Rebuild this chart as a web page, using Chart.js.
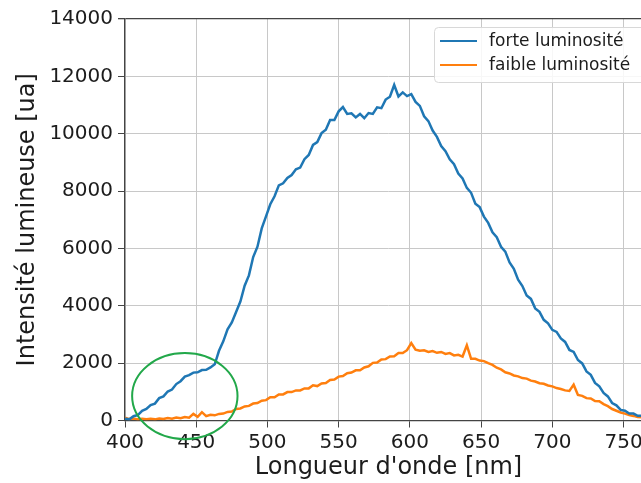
<!DOCTYPE html>
<html>
<head>
<meta charset="utf-8">
<script src="https://cdn.jsdelivr.net/npm/chart.js@4"></script>
<style>
  html, body { margin: 0; padding: 0; overflow: hidden; background: #fff; }
  #wrap { width: 652px; height: 483px; }
</style>
</head>
<body>
<div id="wrap"><canvas id="spectre" width="652" height="483"></canvas></div>
<script>
// Longueurs d'onde (nm)
const wavelengths = [400,403,406,409,412,415,418,421,424,427,430,433,436,439,442,445,448,451,454,457,
  460,463,466,469,472,475,478,481,484,487,490,493,496,499,502,505,508,511,514,517,
  520,523,526,529,532,535,538,541,544,547,550,553,556,559,562,565,568,571,574,577,
  580,583,586,589,592,595,598,601,604,607,610,613,616,619,622,625,628,631,634,637,
  640,643,646,649,652,655,658,661,664,667,670,673,676,679,682,685,688,691,694,697,
  700,703,706,709,712,715,718,721,724,727,730,733,736,739,742,745,748,751,754,757,
  760,763];

// Intensité, forte luminosité
const forte = [60,40,150,190,340,400,540,590,780,840,1010,1080,1270,1370,1530,1580,1670,1680,1760,1770,
  1850,1960,2430,2760,3180,3420,3780,4150,4700,5060,5700,6060,6700,7120,7540,7820,8200,8270,8460,8560,
  8760,8820,9110,9260,9610,9710,10020,10140,10480,10480,10780,10930,10690,10710,10570,10690,10540,10720,10690,10920,
  10890,11190,11290,11700,11300,11440,11310,11380,11110,10970,10610,10440,10110,9890,9570,9390,9110,8940,8610,8440,
  8110,7940,7560,7440,7110,6890,6560,6390,6060,5890,5510,5290,4910,4690,4360,4240,3910,3790,3510,3390,
  3160,3090,2860,2740,2460,2390,2110,1990,1710,1590,1310,1190,960,840,610,530,370,340,240,240,
  165,165];

// Intensité, faible luminosité
const faible = [100,50,70,40,60,40,60,40,70,50,90,60,100,80,120,100,230,130,290,150,
  200,180,230,240,300,310,400,420,490,510,590,610,690,710,810,810,910,910,990,990,
  1050,1050,1120,1120,1230,1200,1290,1310,1410,1430,1530,1550,1650,1670,1750,1750,1850,1890,2010,2020,
  2130,2140,2230,2240,2350,2350,2450,2700,2470,2430,2450,2390,2420,2360,2390,2320,2350,2270,2290,2230,
  2620,2150,2150,2090,2070,2000,1940,1840,1780,1680,1640,1570,1540,1480,1460,1390,1360,1300,1280,1220,
  1190,1130,1100,1050,1030,1250,890,860,780,770,680,670,570,500,400,340,280,240,190,160,
  120,110];

const xTicks = [400, 450, 500, 550, 600, 650, 700, 750];
const yTicks = [0, 2000, 4000, 6000, 8000, 10000, 12000, 14000];

// zone entourée en vert (en unités des axes)
const zone = { x: 442, y: 850, rx: 37, ry: 1500 };

const FONT = "'DejaVu Sans', sans-serif";
const INK = "#1c1c1c";

function pairs(xs, ys) {
  return xs.map((x, i) => ({ x: x, y: ys[i] }));
}

const extras = {
  id: "extras",
  afterDatasetsDraw(chart) {
    const ctx = chart.ctx;
    const xs = chart.scales.x, ys = chart.scales.y;
    // ellipse verte
    const cx = xs.getPixelForValue(zone.x), cy = ys.getPixelForValue(zone.y);
    const rx = xs.getPixelForValue(zone.x + zone.rx) - cx;
    const ry = cy - ys.getPixelForValue(zone.y + zone.ry);
    ctx.save();
    ctx.beginPath();
    ctx.ellipse(cx, cy, rx, ry, 0, 0, Math.PI * 2);
    ctx.strokeStyle = "#22a84a";
    ctx.lineWidth = 2;
    ctx.stroke();
    ctx.restore();
  },
  afterDraw(chart) {
    const ctx = chart.ctx;
    ctx.save();
    // cadre de la légende
    ctx.beginPath();
    ctx.roundRect(434.5, 27.5, 215, 55, 4);
    ctx.fillStyle = "rgba(255,255,255,0.85)";
    ctx.fill();
    ctx.strokeStyle = "#d8d8d8";
    ctx.lineWidth = 1;
    ctx.stroke();
    chart.data.datasets.forEach((ds, i) => {
      const y = 41 + i * 24;
      ctx.beginPath();
      ctx.moveTo(440, y);
      ctx.lineTo(477, y);
      ctx.strokeStyle = ds.borderColor;
      ctx.lineWidth = 2;
      ctx.stroke();
      ctx.fillStyle = INK;
      ctx.font = "17px " + FONT;
      ctx.textBaseline = "middle";
      ctx.fillText(ds.label, 489, y + 1);
    });
    ctx.restore();
  }
};

new Chart(document.getElementById("spectre"), {
  type: "line",
  data: {
    datasets: [{
      label: "forte luminosité",
      data: pairs(wavelengths, forte),
      borderColor: "#1f77b4",
      borderWidth: 2.5,
      pointRadius: 0,
      tension: 0
    }, {
      label: "faible luminosité",
      data: pairs(wavelengths, faible),
      borderColor: "#ff7f0e",
      borderWidth: 2.5,
      pointRadius: 0,
      tension: 0
    }]
  },
  options: {
    responsive: false,
    animation: false,
    layout: { padding: { left: 0, right: 0, top: 19, bottom: 0 } },
    plugins: { legend: { display: false }, tooltip: { enabled: false } },
    scales: {
      x: {
        type: "linear",
        min: 400,
        max: 770,
        afterBuildTicks: (s) => { s.ticks = xTicks.map(v => ({ value: v })); },
        afterFit: (s) => { s.height = 62.5; s.paddingLeft = 0; s.paddingRight = 0; },
        ticks: {
          color: INK, font: { family: FONT, size: 20 }, padding: 3, maxRotation: 0,
          callback: (v) => String(v)
        },
        grid: { color: "#c8c8c8", lineWidth: 1, tickLength: 7, tickColor: "#444" },
        border: { color: "#444", width: 1.3 },
        title: {
          display: true, text: "Longueur d'onde [nm]", color: INK,
          font: { family: FONT, size: 24 }, padding: { top: 0, bottom: 1 }
        }
      },
      y: {
        min: 0,
        max: 14000,
        afterBuildTicks: (s) => { s.ticks = yTicks.map(v => ({ value: v })); },
        afterFit: (s) => { s.width = 125; s.paddingTop = 0; s.paddingBottom = 0; },
        ticks: {
          color: INK, font: { family: FONT, size: 20 }, padding: 5,
          callback: (v) => String(v)
        },
        grid: {
          color: (c) => c.tick && c.tick.value === 14000 ? "#444" : "#c8c8c8",
          lineWidth: (c) => c.tick && c.tick.value === 14000 ? 1.3 : 1,
          tickLength: 7, tickColor: "#444"
        },
        border: { color: "#444", width: 1.3 },
        title: {
          display: true, text: "Intensité lumineuse [ua]", color: INK,
          font: { family: FONT, size: 24 }, padding: { top: 13, bottom: 0 }
        }
      }
    }
  },
  plugins: [extras]
});
</script>
</body>
</html>
